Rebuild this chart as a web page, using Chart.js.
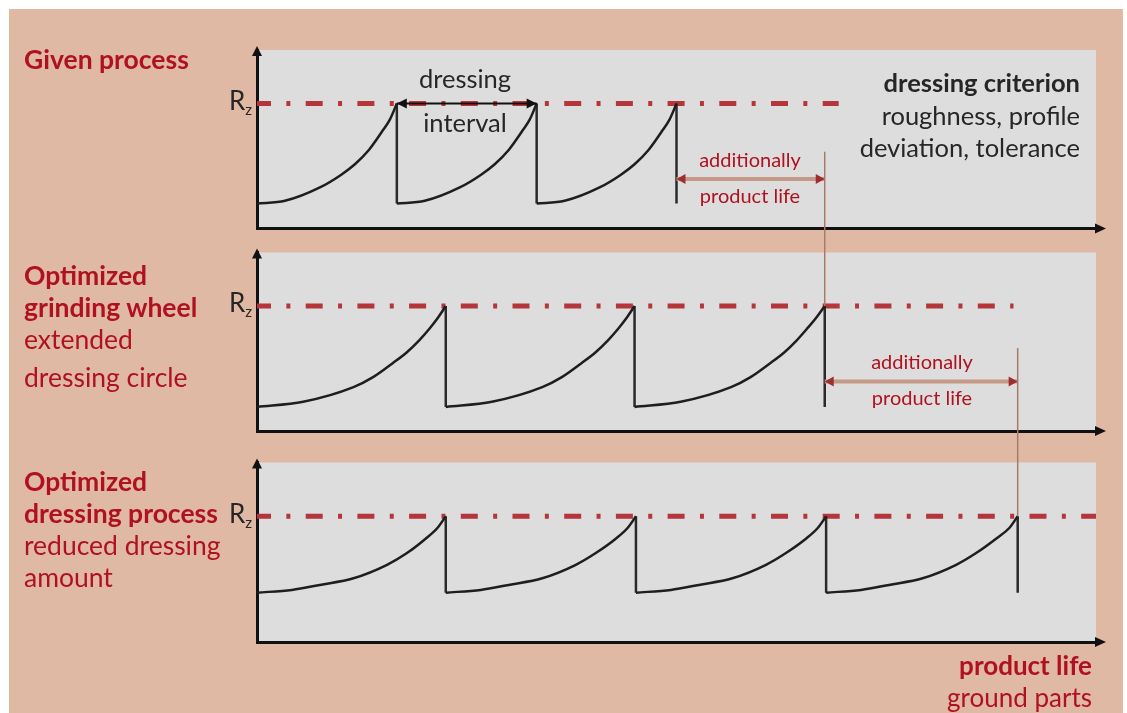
<!DOCTYPE html>
<html lang="en">
<head>
  <meta charset="UTF-8" />
  <title>Dressing interval and product life</title>
  <script src="https://cdn.jsdelivr.net/npm/chart.js"></script>
  <style>
    body { margin: 0; width: 1127px; height: 713px; position: relative; overflow: hidden; background: #fff; font-family: Lato, "Noto Sans", sans-serif; }
    #bg { position: absolute; left: 9px; top: 9px; width: 1114px; height: 704px; background: #e0b9a5; }
    canvas { position: absolute; left: 0; top: 0; }
    .t { position: absolute; white-space: nowrap; line-height: 30px; transform: translateY(-50%); }
    .red { color: #b0111f; }
    .dark { color: #262626; }
    .b { font-weight: 700; }
    .l { font-size: 26.5px; left: 24px; }
    .rz { font-size: 26px; left: 229px; color: #262626; }
    .rz sub { font-size: 15px; vertical-align: -5px; }
    .note { font-size: 20px; transform: translate(-50%, -50%); }
    .mid { font-size: 25.5px; transform: translate(-50%, -50%); }
    .right { font-size: 25.5px; text-align: right; }
    .foot { font-size: 26px; }
  </style>
</head>

<body>
  <div id="bg"></div>
  <canvas id="given" width="1127" height="713"></canvas>
  <canvas id="wheel" width="1127" height="713"></canvas>
  <canvas id="dress" width="1127" height="713"></canvas>

  <!-- left labels -->
  <div class="t l red b" style="top:59px">Given process</div>
  <div class="t l red b" style="top:275px">Optimized</div>
  <div class="t l red b" style="top:307px">grinding wheel</div>
  <div class="t l red" style="top:339px">extended</div>
  <div class="t l red" style="top:377px">dressing circle</div>
  <div class="t l red b" style="top:481px">Optimized</div>
  <div class="t l red b" style="top:513px">dressing process</div>
  <div class="t l red" style="top:545px">reduced dressing</div>
  <div class="t l red" style="top:577px">amount</div>

  <!-- Rz labels -->
  <div class="t rz" style="top:104px">R<sub>z</sub></div>
  <div class="t rz" style="top:306px">R<sub>z</sub></div>
  <div class="t rz" style="top:517px">R<sub>z</sub></div>

  <!-- annotations -->
  <div class="t mid dark" style="left:465px; top:78px">dressing</div>
  <div class="t mid dark" style="left:465px; top:122px">interval</div>
  <div class="t right dark b" style="right:47px; top:82px">dressing criterion</div>
  <div class="t right dark" style="right:47px; top:115px">roughness, profile</div>
  <div class="t right dark" style="right:47px; top:147px">deviation, tolerance</div>
  <div class="t note red" style="left:750px; top:159px">additionally</div>
  <div class="t note red" style="left:750px; top:195px">product life</div>
  <div class="t note red" style="left:922px; top:361px">additionally</div>
  <div class="t note red" style="left:922px; top:397px">product life</div>
  <div class="t right foot red b" style="right:35px; top:665px">product life</div>
  <div class="t right foot red" style="right:35px; top:697px">ground parts</div>

  <script>
    // shared scale: product life on x (0..60), roughness on y (0..100)
    const lifeMax = 60;
    const rzLevel = 70;
    const extraLevel = 27.7;

    // Given process
    const givenWear = [
      [0, 14], [2, 15.5], [4.5, 23], [6, 30], [7, 36], [8, 44], [9, 55], [9.5, 61], [10, 70], null,
      [10, 14], [12, 15.5], [14.5, 23], [16, 30], [17, 36], [18, 44], [19, 55], [19.5, 61], [20, 70], null,
      [20, 14], [22, 15.5], [24.5, 23], [26, 30], [27, 36], [28, 44], [29, 55], [29.5, 61], [30, 70]
    ];
    const givenDressing = [10, 20, 30];
    const givenFloor = 14;
    const givenRzEnd = 41.6;
    const givenInterval = [10, 20];
    const givenExtra = [30, 40.6];

    // Optimized grinding wheel
    const wheelWear = [
      [0, 13.5], [3.3, 16.4], [6.9, 24.6], [8.3, 30.2], [9.7, 38], [10.7, 44], [11.6, 50.8], [12.3, 57], [12.9, 63], [13.5, 70], null,
      [13.5, 13.5], [16.8, 16.4], [20.4, 24.6], [21.8, 30.2], [23.2, 38], [24.2, 44], [25.1, 50.8], [25.8, 57], [26.4, 63], [27, 70], null,
      [27, 13.5], [30.3, 16.4], [33.9, 24.6], [35.3, 30.2], [36.7, 38], [37.7, 44], [38.6, 50.8], [39.3, 57], [39.95, 63], [40.6, 70]
    ];
    const wheelDressing = [13.5, 27, 40.6];
    const wheelFloor = 13.5;
    const wheelRzEnd = 54.1;
    const wheelExtra = [40.6, 54.4];

    // Optimized dressing process
    const dressWear = [
      [0, 27.5], [2.5, 29], [4.5, 31.8], [6.9, 35.5], [9.3, 43], [10.7, 49.4], [12.1, 57.8], [12.9, 63.5], [13.5, 70], null,
      [13.5, 27.5], [16, 29], [18, 31.8], [20.4, 35.5], [22.8, 43], [24.2, 49.4], [25.7, 57.8], [26.5, 63.5], [27.1, 70], null,
      [27.1, 27.5], [29.6, 29], [31.6, 31.8], [34, 35.5], [36.4, 43], [37.8, 49.4], [39.3, 57.8], [40.1, 63.5], [40.7, 70], null,
      [40.7, 27.5], [43.2, 29], [45.2, 31.8], [47.6, 35.5], [50, 43], [51.4, 49.4], [52.9, 57.8], [53.8, 63.5], [54.4, 70]
    ];
    const dressDressing = [13.5, 27.1, 40.7, 54.4];
    const dressFloor = 27.5;
    const dressRzEnd = 60;

    // label tops for the links between panels
    const givenLinkTop = 43;
    const wheelLinkTop = 46.5;

    function drawHead(ctx, x, y, dx, dy, len, half, color) {
      ctx.save();
      ctx.fillStyle = color;
      ctx.beginPath();
      ctx.moveTo(x, y);
      ctx.lineTo(x - dx * len - dy * half, y - dy * len + dx * half);
      ctx.lineTo(x - dx * len + dy * half, y - dy * len - dx * half);
      ctx.closePath();
      ctx.fill();
      ctx.restore();
    }

    // grey panel, axis arrows and double arrow heads
    const panelDecor = {
      id: 'panelDecor',
      beforeDraw(chart) {
        const { ctx, chartArea: a } = chart;
        ctx.save();
        ctx.fillStyle = '#dddddd';
        ctx.fillRect(a.left, a.top, a.right - a.left, a.bottom - a.top);
        ctx.restore();
      },
      afterDraw(chart) {
        const { ctx, chartArea: a } = chart;
        ctx.save();
        ctx.strokeStyle = '#111';
        ctx.lineWidth = 3;
        ctx.beginPath();
        ctx.moveTo(a.right - 1, a.bottom);
        ctx.lineTo(a.right + 4, a.bottom);
        ctx.stroke();
        ctx.restore();
        drawHead(ctx, a.right + 10, a.bottom, 1, 0, 11, 5, '#111');
        drawHead(ctx, a.left, a.top - 4, 0, -1, 10, 5, '#111');

        chart.data.datasets.forEach((ds, i) => {
          if (!ds.heads) return;
          const pts = chart.getDatasetMeta(i).data;
          const p0 = pts[0], p1 = pts[pts.length - 1];
          drawHead(ctx, p0.x, p0.y, -1, 0, ds.heads.len, ds.heads.half, ds.heads.color);
          drawHead(ctx, p1.x, p1.y, 1, 0, ds.heads.len, ds.heads.half, ds.heads.color);
        });
      }
    };

    // thin line from the label of the panel above to the peak below
    function linkPlugin(upper, fromY, x) {
      return {
        id: 'link',
        afterDatasetsDraw(chart) {
          const ctx = chart.ctx;
          const px = chart.scales.x.getPixelForValue(x);
          const top = upper.scales.y.getPixelForValue(fromY);
          const bottom = chart.scales.y.getPixelForValue(rzLevel);
          ctx.save();
          ctx.strokeStyle = '#a87a68';
          ctx.lineWidth = 1.5;
          ctx.beginPath();
          ctx.moveTo(px, top);
          ctx.lineTo(px, bottom);
          ctx.stroke();
          ctx.restore();
        }
      };
    }

    const toPoints = pairs => pairs.map(p => p ? { x: p[0], y: p[1] } : { x: null, y: null });
    const drops = (xs, floor) => xs.flatMap(x => [{ x, y: rzLevel }, { x, y: floor }, { x: null, y: null }]);
    const span = (range, y) => [{ x: range[0], y }, { x: range[1], y }];

    function axis(min, max) {
      return {
        type: 'linear', min, max,
        grid: { display: false, drawTicks: false },
        ticks: { display: false },
        border: { display: true, color: '#111', width: 3 }
      };
    }

    function makePanel(id, top, bottom, datasets, extraPlugins) {
      return new Chart(document.getElementById(id), {
        type: 'line',
        data: { datasets },
        options: {
          responsive: false,
          animation: false,
          events: [],
          layout: { padding: { left: 257, right: 31, top, bottom: 713 - bottom } },
          scales: { x: axis(0, lifeMax), y: axis(0, 100) },
          plugins: { legend: { display: false }, tooltip: { enabled: false } },
          elements: { point: { radius: 0 } }
        },
        plugins: [panelDecor].concat(extraPlugins || [])
      });
    }

    const wearStyle = { borderColor: '#1e1e1e', borderWidth: 2.5, cubicInterpolationMode: 'monotone', spanGaps: false, order: 1 };
    const dropStyle = { borderColor: '#2a2a2a', borderWidth: 2.5, tension: 0, spanGaps: false, order: 1 };
    const rzStyle = { borderColor: '#b4353a', borderWidth: 5, borderDash: [17, 15.35, 4, 15.35], borderDashOffset: 3, order: 3 };
    const extraStyle = { borderColor: '#c59887', borderWidth: 4, order: 0, heads: { len: 9, half: 5, color: '#9e2f30' } };

    const given = makePanel('given', 50, 228.5, [
      Object.assign({ label: 'roughness', data: toPoints(givenWear) }, wearStyle),
      Object.assign({ label: 'dressing', data: drops(givenDressing, givenFloor) }, dropStyle),
      Object.assign({ label: 'dressing interval', data: span(givenInterval, rzLevel), borderColor: '#111', borderWidth: 2, order: 0, heads: { len: 10, half: 5, color: '#111' } }),
      Object.assign({ label: 'additionally product life', data: span(givenExtra, extraLevel) }, extraStyle),
      Object.assign({ label: 'Rz', data: span([0, givenRzEnd], rzLevel) }, rzStyle)
    ]);

    const wheel = makePanel('wheel', 252.5, 431, [
      Object.assign({ label: 'roughness', data: toPoints(wheelWear) }, wearStyle),
      Object.assign({ label: 'dressing', data: drops(wheelDressing, wheelFloor) }, dropStyle),
      Object.assign({ label: 'additionally product life', data: span(wheelExtra, extraLevel) }, extraStyle),
      Object.assign({ label: 'Rz', data: span([0, wheelRzEnd], rzLevel) }, rzStyle)
    ], [linkPlugin(given, givenLinkTop, givenExtra[1])]);

    const dress = makePanel('dress', 462.5, 642, [
      Object.assign({ label: 'roughness', data: toPoints(dressWear) }, wearStyle),
      Object.assign({ label: 'dressing', data: drops(dressDressing, dressFloor) }, dropStyle),
      Object.assign({ label: 'Rz', data: span([0, dressRzEnd], rzLevel) }, rzStyle)
    ], [linkPlugin(wheel, wheelLinkTop, wheelExtra[1])]);
  </script>
</body>
</html>
